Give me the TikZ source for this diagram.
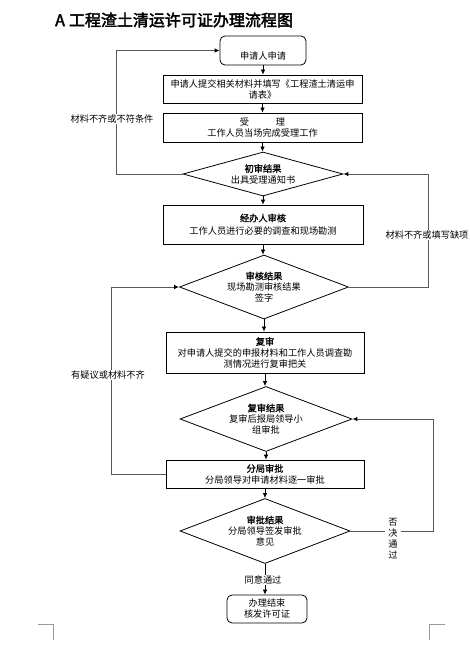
\documentclass[tikz,border=0pt]{standalone}
\usepackage{fontspec}
\setmainfont{Noto Sans CJK SC}[AutoFakeBold=1.5]
\newfontfamily\titlefont[FakeBold=2.5]{Noto Sans CJK SC}
\usetikzlibrary{shapes.geometric,arrows.meta}
\newcommand\myfs{\fontsize{9.2}{11}\selectfont}
\begin{document}
\begin{tikzpicture}[x=1pt,y=-1pt,
  stepbox/.style={draw, line width=0.8pt, minimum width=199pt, align=center, inner sep=0pt, font=\myfs},
  roundbox/.style={draw, line width=0.8pt, rounded corners=5pt, align=center, inner sep=0pt, font=\myfs},
  decision/.style={draw, shape=diamond, line width=0.8pt, align=center, inner sep=0pt, font=\myfs},
  arr/.style={line width=0.7pt, -{Latex[length=5pt,width=4.5pt]}},
  loopline/.style={line width=1pt, draw=black!65, -{Latex[length=5pt,width=4.5pt,color=black]}},
  lbl/.style={fill=white, inner sep=1pt, font=\myfs, align=center}]
\useasboundingbox (0,0) rectangle (469,651);
% title
\node[anchor=west, inner sep=0pt, font=\titlefont\fontsize{16}{18}\selectfont] (title) at (55,20) {A\hspace{4pt}工程渣土清运许可证办理流程图};
% nodes
\node[roundbox, minimum width=86pt, minimum height=29pt] (start) at (263,50.5) {};
\node[font=\myfs, inner sep=0pt] (starttxt) at (263,56) {申请人申请};
\node[stepbox, minimum height=28pt] (submit) at (262.5,89) {申请人提交相关材料并填写《工程渣土清运申\\请表》};
\node[stepbox, minimum height=29pt] (accept) at (262.5,127.5) {受\hspace{27pt}理\\工作人员当场完成受理工作};
\node[decision, minimum width=160pt, minimum height=44pt, aspect=3.5] (d1) at (263,174) {\textbf{初审结果}\\出具受理通知书};
\node[stepbox, minimum width=200pt, minimum height=39pt] (review) at (263,224.5) {\textbf{经办人审核}\\[2pt]工作人员进行必要的调查和现场勘测};
\node[decision, minimum width=169pt, minimum height=64pt, aspect=2.6] (d2) at (264,287) {\textbf{审核结果}\\现场勘测审核结果\\签字};
\node[stepbox, minimum width=198pt, minimum height=41pt] (recheck) at (265,352.5) {\textbf{复审}\\对申请人提交的申报材料和工作人员调查勘\\测情况进行复审把关};
\node[decision, minimum width=172pt, minimum height=65pt, aspect=2.6] (d3) at (266,419) {\textbf{复审结果}\\复审后报局领导小\\组审批};
\node[stepbox, minimum width=198pt, minimum height=28pt] (approve) at (265,474) {\textbf{分局审批}\\分局领导对申请材料逐一审批};
\node[decision, minimum width=170pt, minimum height=65pt, aspect=2.6] (d4) at (265,531) {\textbf{审批结果}\\分局领导签发审批\\意见};
\node[roundbox, minimum width=80pt, minimum height=28pt] (finish) at (267,609) {办理结束\\核发许可证};
% loop corner coordinates
\coordinate (l1) at (116,0);
\coordinate (r1) at (428,0);
\coordinate (l2) at (111,0);
\coordinate (r2) at (433,0);
% main flow arrows
\draw[arr] (start.south) -- (start.south |- submit.north);
\draw[arr] (submit.south) -- (submit.south |- accept.north);
\draw[arr] (accept.south) -- (accept.south |- d1.north);
\draw[arr] (d1.south) -- (d1.south |- review.north);
\draw[arr] (review.south) -- (review.south |- d2.north);
\draw[arr] (d2.south) -- (d2.south |- recheck.north);
\draw[arr] (recheck.south) -- (recheck.south |- d3.north);
\draw[arr] (d3.south) -- (d3.south |- approve.north);
\draw[arr] (approve.south) -- (approve.south |- d4.north);
\draw[arr] (d4.south) -- (d4.south |- finish.north);
% loops
\draw[loopline] (d1.west) -- (d1.west -| l1) -- (l1 |- start.west) -- (start.west);
\draw[loopline] (d2.east) -- (d2.east -| r1) -- (r1 |- d1.east) -- (d1.east);
\draw[loopline] (approve.west) -- (approve.west -| l2) -- (l2 |- d2.west) -- (d2.west);
\draw[loopline] (d4.east) -- (d4.east -| r2) -- (r2 |- d3.east) -- (d3.east);
% labels
\node[lbl] (lab1) at (112,119) {材料不齐或不符条件};
\node[lbl] (lab2) at (427,235) {材料不齐或填写缺项};
\node[lbl] (lab3) at (108,375) {有疑议或材料不齐};
\node[lbl, inner sep=3pt, align=center, text width=10pt] (lab4) at (393,539) {否\\决\\通\\过};
\node[lbl] (lab5) at (263,580) {同意通过};
% corner marks
\draw[black!40, line width=1pt] (38,624) -- (53,624) -- (53,640);
\draw[black!40, line width=1pt] (445,624) -- (429,624) -- (429,640);
\end{tikzpicture}
\end{document}
